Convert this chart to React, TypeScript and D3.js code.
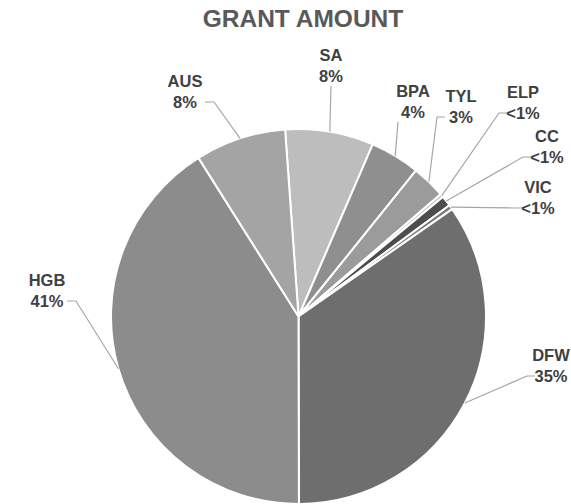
import React, { useEffect, useRef } from 'react'
import * as d3 from 'd3'

const WIDTH = 571
const HEIGHT = 504

// slices in drawing order, clockwise from just left of 12 o'clock
const names = ['SA', 'BPA', 'TYL', 'ELP', 'CC', 'VIC', 'DFW', 'HGB', 'AUS']
const amounts = [7.6, 4.3, 2.9, 0.3, 0.9, 0.4, 34.6, 41.0, 7.8]
const shades = ['#bdbdbd', '#8f8f8f', '#9b9b9b', '#c4c4c4', '#4d4d4d', '#7c7c7c', '#6e6e6e', '#8c8c8c', '#a4a4a4']

// label layout: centre x, first baseline, where the leader leaves the text
const labelLayout = {
  SA: { x: 331, y: 61, side: 'bottom' },
  BPA: { x: 413, y: 97, side: 'bottom' },
  TYL: { x: 461, y: 102, side: 'left' },
  ELP: { x: 523, y: 98, side: 'left' },
  CC: { x: 547, y: 142, side: 'left' },
  VIC: { x: 538, y: 193, side: 'left' },
  DFW: { x: 551, y: 361, side: 'left' },
  HGB: { x: 47, y: 286, side: 'right' },
  AUS: { x: 185, y: 87, side: 'right' },
}

const CX = 298.5
const CY = 316.5
const R = 187.5
const START = (-4.1 * Math.PI) / 180

export default function App() {
  const ref = useRef<SVGSVGElement>(null)

  useEffect(() => {
    const svg = d3.select(ref.current)
    svg.selectAll('*').remove()

    const total = d3.sum(amounts)
    const rows = names.map((n, i) => ({ name: n, value: amounts[i], color: shades[i] }))

    const pie = d3.pie<any>()
      .sort(null)
      .value((d) => d.value)
      .startAngle(START)
      .endAngle(START + Math.PI * 2)

    const arc = d3.arc<any>().innerRadius(0).outerRadius(R)
    const edge = d3.arc<any>().innerRadius(R).outerRadius(R)

    svg.append('text')
      .attr('x', 303)
      .attr('y', 27)
      .attr('text-anchor', 'middle')
      .attr('font-family', 'Liberation Sans, Arial, sans-serif')
      .attr('font-weight', 'bold')
      .attr('font-size', 24.5)
      .attr('fill', '#595959')
      .text('GRANT AMOUNT')

    const g = svg.append('g').attr('transform', `translate(${CX}, ${CY})`)
    const arcs = pie(rows)

    g.selectAll('path')
      .data(arcs)
      .enter()
      .append('path')
      .attr('d', arc)
      .attr('fill', (d) => d.data.color)
      .attr('stroke', '#fff')
      .attr('stroke-width', 2)
      .attr('stroke-linejoin', 'round')

    const pctText = (v) => {
      const p = (v / total) * 100
      return p < 1 ? '<1%' : `${Math.round(p)}%`
    }

    arcs.forEach((d) => {
      const lay = labelLayout[d.data.name]
      const [ex, ey] = edge.centroid(d)
      const ax = ex + CX
      const ay = ey + CY
      let pts
      const midY = lay.y + 15
      if (lay.side === 'bottom') {
        pts = [[lay.x - (d.data.name === 'BPA' ? 15 : 0), lay.y + 25], [ax, ay]]
      } else if (lay.side === 'left') {
        const sx = lay.x - 16
        pts = [[sx, midY], [sx - 8, midY], [ax, ay]]
      } else {
        const sx = lay.x + 20
        pts = [[sx, midY], [sx + 9, midY], [ax, ay]]
      }
      svg.append('path')
        .attr('d', d3.line()(pts))
        .attr('fill', 'none')
        .attr('stroke', '#a6a6a6')
        .attr('stroke-width', 1.2)

      const t = svg.append('text')
        .attr('text-anchor', 'middle')
        .attr('font-family', 'Liberation Sans, Arial, sans-serif')
        .attr('font-weight', 'bold')
        .attr('font-size', 16.5)
        .attr('fill', '#404040')
      t.append('tspan').attr('x', lay.x).attr('y', lay.y).text(d.data.name)
      t.append('tspan').attr('x', lay.x).attr('y', lay.y + 20.5).text(pctText(d.data.value))
    })
  }, [])

  return (
    <svg
      ref={ref}
      width={WIDTH}
      height={HEIGHT}
      style={{ position: 'absolute', left: 0, top: 0, background: '#fff' }}
    />
  )
}
